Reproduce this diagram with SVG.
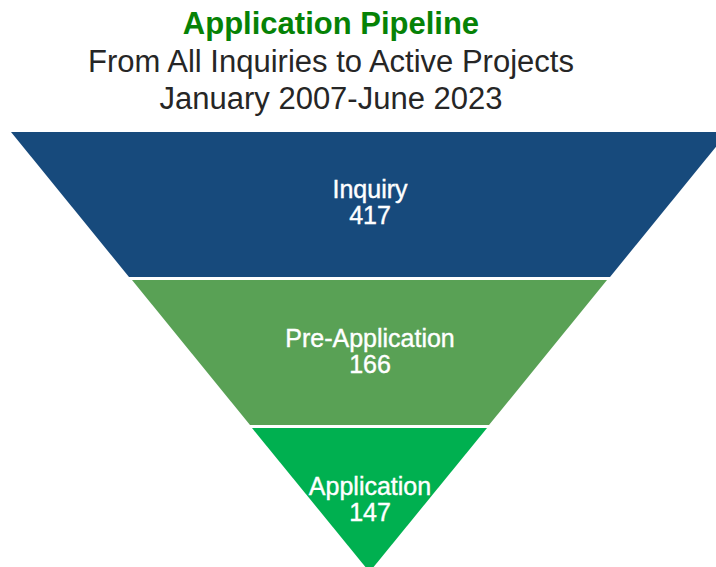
<svg xmlns="http://www.w3.org/2000/svg" width="716" height="567" viewBox="0 0 716 567">
<style>
.t{font-family:"Liberation Sans",Arial,sans-serif;text-anchor:middle}
.title{font-size:31px;font-weight:bold;fill:#068206}
.sub{font-size:31px;fill:#262626}
.lbl{font-size:25px;fill:#ffffff;stroke:#ffffff;stroke-width:0.4}
</style>
<rect width="716" height="567" fill="#ffffff"/>
<g id="title">
<text class="t title" x="331" y="34">Application Pipeline</text>
<text class="t sub" x="331" y="72">From All Inquiries to Active Projects</text>
<text class="t sub" x="331" y="109">January 2007-June 2023</text>
</g>
<g id="inquiry">
<polygon points="11,132 728,132 610,277 129,277" fill="#174A7C"/>
<text class="t lbl" x="370" y="198">Inquiry</text>
<text class="t lbl" x="370" y="224">417</text>
</g>
<g id="pre-application">
<polygon points="132,280 607,280 489,425 250,425" fill="#59A155"/>
<text class="t lbl" x="370" y="347">Pre-Application</text>
<text class="t lbl" x="370" y="373">166</text>
</g>
<g id="application">
<polygon points="252,428 487,428 369.5,572" fill="#00B050"/>
<text class="t lbl" x="370" y="495">Application</text>
<text class="t lbl" x="370" y="521">147</text>
</g>
<g id="connectors"/>
</svg>
